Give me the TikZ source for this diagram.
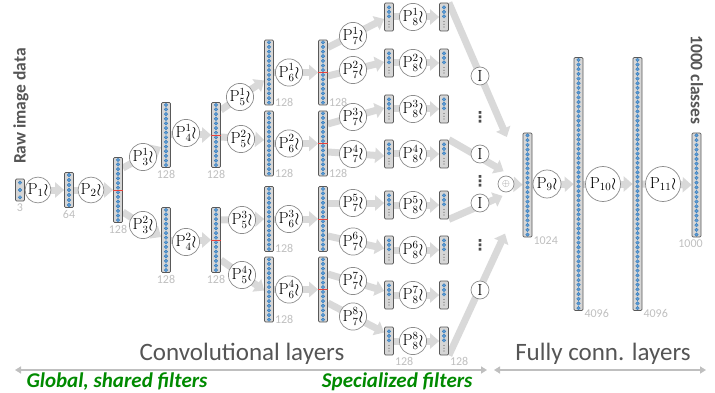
\documentclass[tikz,border=0pt]{standalone}
\usepackage{amsmath,amssymb}
\usepackage{fontspec}
\usepackage{tikz}
\usetikzlibrary{arrows.meta,calc,backgrounds}

\newfontfamily\carlito{Carlito}
\newfontfamily\dejavu{DejaVu Sans}

\definecolor{boxfill}{HTML}{D6D6D6}
\definecolor{boxedge}{HTML}{595959}
\definecolor{dotblue}{HTML}{5B9BD5}
\definecolor{dotedge}{HTML}{2E75B6}
\definecolor{flowgray}{HTML}{D9D9D9}
\definecolor{labelgray}{HTML}{555555}
\definecolor{dimgray}{HTML}{BFBFBF}
\definecolor{splitred}{HTML}{E8413C}
\definecolor{filtergreen}{HTML}{008A00}

\begin{document}
\begin{tikzpicture}[x=1pt, y=-1pt,
    vec/.style 2 args={draw=boxedge, fill=boxfill, line width=0.7pt, rounded corners=1.2pt,
        minimum width=9pt, minimum height=#2, inner sep=0pt,
        path picture={\foreach \k in {1,...,#1}
            \path[fill=dotblue, draw=dotedge, line width=0.3pt]
                ($(path picture bounding box.north)!{(\k-0.5)/#1}!(path picture bounding box.south)$) circle (1.8pt);}},
    subvec/.style={draw=boxedge, fill=boxfill, line width=0.7pt, rounded corners=1.2pt,
        minimum width=9pt, minimum height=28pt, inner sep=0pt,
        path picture={
            \foreach \f in {0.16,0.32,0.48}
                \path[fill=dotblue, draw=dotedge, line width=0.3pt]
                    ($(path picture bounding box.north)!\f!(path picture bounding box.south)$) circle (1.8pt);
            \foreach \f in {0.66,0.76,0.86}
                \fill[black!60] ($(path picture bounding box.north)!\f!(path picture bounding box.south)$) circle (0.6pt);}},
    op/.style={circle, draw=black!45, fill=white, line width=0.7pt, inner sep=0pt, minimum size=27pt,
        font=\fontsize{16}{18}\selectfont},
    skip/.style={text=black!70, font=\dejavu\bfseries\fontsize{15}{15}\selectfont, inner sep=0pt},
    flow/.style={draw=flowgray, line width=7pt, -{Triangle[length=9pt, width=15pt]}},
    splitline/.style={draw=splitred, line width=0.8pt},
    dimlabel/.style={text=dimgray, font=\carlito\fontsize{12}{14}\selectfont, inner sep=1pt},
    headtext/.style={text=labelgray, font=\carlito\bfseries\fontsize{17.5}{20}\selectfont},
    parttext/.style={text=labelgray, font=\carlito\fontsize{25}{30}\selectfont, anchor=base},
    filters/.style={text=filtergreen, font=\carlito\bfseries\itshape\fontsize{21}{25}\selectfont},
    spanarrow/.style={draw=dimgray, line width=2pt, {Triangle[length=6pt, width=7pt]}-{Triangle[length=6pt, width=7pt]}}]

    \useasboundingbox (0,0) rectangle (715,393);

    % shared trunk
    \node[vec={3}{22pt}]  (c0) at (20,190) {};
    \node[op, minimum size=25pt] (p1) at (38,190) {$\mathrm{P}_1\wr$};
    \node[vec={7}{35pt}]  (c1) at (69,190) {};
    \node[op, minimum size=25pt] (p2) at (91,190) {$\mathrm{P}_2\wr$};
    \node[vec={14}{65pt}] (c2) at (118,190) {};

    % first split
    \node[op] (p31) at (143,157) {$\mathrm{P}^1_3\wr$};
    \node[op] (p32) at (143,225) {$\mathrm{P}^2_3\wr$};
    \node[vec={14}{65pt}] (c3a) at (166,135) {};
    \node[vec={14}{65pt}] (c3b) at (166,240) {};
    \node[op] (p41) at (186,133) {$\mathrm{P}^1_4\wr$};
    \node[op] (p42) at (186,242) {$\mathrm{P}^2_4\wr$};
    \node[vec={14}{65pt}] (c4a) at (216,135) {};
    \node[vec={14}{65pt}] (c4b) at (216,240) {};

    % second split
    \node[op] (p51) at (240,97)  {$\mathrm{P}^1_5\wr$};
    \node[op] (p52) at (241,139) {$\mathrm{P}^2_5\wr$};
    \node[op] (p53) at (242,220) {$\mathrm{P}^3_5\wr$};
    \node[op] (p54) at (242,275) {$\mathrm{P}^4_5\wr$};
    \foreach \n/\y/\k in {a/72.5/1, b/143.5/2, c/219/3, d/289.5/4} {
        \node[vec={14}{65pt}] (c5\n) at (269,\y) {};
        \node[op] (p6\k) at (289,\y) {$\mathrm{P}^{\k}_6\wr$};
        \node[vec={14}{65pt}] (c6\n) at (323,\y) {};
        \node[dimlabel, anchor=west] (l5\n) at ([yshift=3pt]c5\n.south east) {128};
    }
    \node[dimlabel, anchor=west] (l6a) at ([yshift=3pt]c6a.south east) {128};
    \node[dimlabel, anchor=west] (l6b) at ([yshift=3pt]c6b.south east) {128};

    % third split, one branch per group
    \foreach \k/\y in {1/36, 2/70, 3/117, 4/154, 5/203, 6/241.5, 7/281, 8/316.5}
        \node[op] (p7\k) at (353,\y) {$\mathrm{P}^{\k}_7\wr$};
    \foreach \k/\y in {1/17, 2/63, 3/109, 4/154, 5/205, 6/250, 7/295, 8/341} {
        \node[subvec] (c7\k) at (389,\y) {};
        \node[op] (p8\k) at (413,\y) {$\mathrm{P}^{\k}_8\wr$};
        \node[subvec] (c8\k) at (444,\y) {};
    }

    % merge
    \node[op, minimum size=18pt] (i1) at (480,76)  {$\mathrm{I}$};
    \node[op, minimum size=18pt] (i2) at (480,154) {$\mathrm{I}$};
    \node[op, minimum size=18pt] (i3) at (480,203) {$\mathrm{I}$};
    \node[op, minimum size=18pt] (i4) at (480,290) {$\mathrm{I}$};
    \node[skip] (v1) at (480,117) {⋮};
    \node[skip] (v2) at (480,181) {⋮};
    \node[skip] (v3) at (480,245) {⋮};
    \node[op, minimum size=16pt, font=\normalsize, text=black!50] (plus) at (506,184) {$\oplus$};

    % fully connected part
    \node[vec={22}{104pt}] (c9)  at (527.5,185) {};
    \node[op, minimum size=28pt] (p9)  at (547,184) {$\mathrm{P}_9\wr$};
    \node[vec={54}{253pt}] (c10) at (578.5,184) {};
    \node[op, minimum size=35pt] (p10) at (603,184) {$\mathrm{P}_{10}\wr$};
    \node[vec={54}{253pt}] (c11) at (637.5,184) {};
    \node[op, minimum size=35pt] (p11) at (663,184) {$\mathrm{P}_{11}\wr$};
    \node[vec={22}{104pt}] (c12) at (696.5,185) {};

    \foreach \n in {c2,c4a,c4b,c6a,c6b,c6c,c6d}
        \draw[splitline] (\n.west) -- (\n.east);

    % sizes
    \node[dimlabel, below=1pt] (l0)  at (c0.south)  {3};
    \node[dimlabel, below=1pt] (l1)  at (c1.south)  {64};
    \node[dimlabel, below=1pt] (l2)  at (c2.south)  {128};
    \node[dimlabel, below=1pt] (l3a) at (c3a.south) {128};
    \node[dimlabel, below=1pt] (l3b) at (c3b.south) {128};
    \node[dimlabel, below=1pt] (l4a) at (c4a.south) {128};
    \node[dimlabel, below=1pt] (l4b) at (c4b.south) {128};
    \node[dimlabel, anchor=north west] (l78) at ([yshift=-1pt]c78.south east) {128};
    \node[dimlabel, anchor=north west] (l88) at ([yshift=-1pt]c88.south east) {128};
    \node[dimlabel, anchor=west] (l9)  at ([yshift=-3pt]c9.south east)  {1024};
    \node[dimlabel, anchor=west] (l10) at ([yshift=-3pt]c10.south east) {4096};
    \node[dimlabel, anchor=west] (l11) at ([yshift=-3pt]c11.south east) {4096};
    \node[dimlabel, below=1pt] (l12) at ([xshift=-6pt]c12.south) {1000};

    \node[headtext, rotate=90]  (raw)     at (21,106) {Raw image data};
    \node[headtext, rotate=-90] (classes) at (697,80) {1000 classes};

    % data flow, kept behind the operators
    \begin{scope}[on background layer]
        \foreach \a/\b in {c0/c1, c1/c2, c3a/c4a, c3b/c4b, c5a/c6a, c5b/c6b, c5c/c6c, c5d/c6d,
                           c71/c81, c72/c82, c73/c83, c74/c84, c75/c85, c76/c86, c77/c87, c78/c88,
                           plus/c9, c9/c10, c10/c11, c11/c12}
            \draw[flow] (\a) -- (\b);
        % branches leave the upper or the lower half of a split layer
        \foreach \a/\s/\b/\t in {c2/22/c3a/-12, c2/-22/c3b/3,
                                 c4a/25/c5a/-8, c4a/-2/c5b/3.5, c4b/20/c5c/0, c4b/-20/c5d/-1,
                                 c6a/25/c71/-2, c6a/-3.5/c72/1, c6b/19.5/c73/1, c6b/-8.5/c74/-2,
                                 c6c/16/c75/2, c6c/-17/c76/1.5, c6d/15.5/c77/4, c6d/-13.5/c78/8.5}
            \draw[flow] ([yshift=\s pt]\a.east) -- ([yshift=\t pt]\b.west);
        \draw[flow, shorten >=40pt] (c81.north east) -- (c9);
        \draw[flow, shorten >=22pt] (c84.north east) -- (c9);
        \draw[flow, shorten >=22pt] (c85.south east) -- (c9);
        \draw[flow, shorten >=42pt] (c88.south east) -- (c9);
    \end{scope}

    % layer groups
    \node[parttext] (conv) at (242,360) {Convolutional layers};
    \node[parttext] (fc)   at (603,360) {Fully conn. layers};
    \coordinate (convL) at (15,370);
    \coordinate (convR) at (487,370);
    \coordinate (fcL)   at (494,370);
    \coordinate (fcR)   at (706,370);
    \draw[spanarrow] (convL) -- (convR);
    \draw[spanarrow] (fcL) -- (fcR);
    \node[filters, anchor=base west] (shared)  at (23,387)  {Global, shared filters};
    \node[filters, anchor=base east] (special) at (476,387) {Specialized filters};

\end{tikzpicture}
\end{document}
